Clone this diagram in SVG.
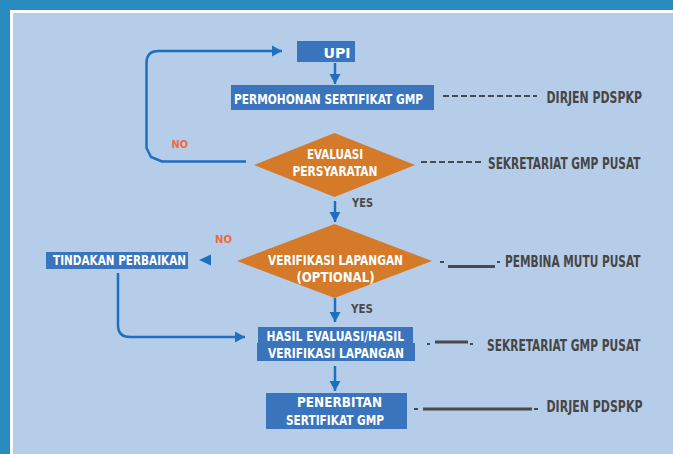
<svg xmlns="http://www.w3.org/2000/svg" width="673" height="454" viewBox="0 0 673 454">
<style>
.box{fill:#3A74BC}
.dia{fill:#D47A29}
.wt{fill:#FFFFFF;font-family:"DejaVu Sans Condensed","DejaVu Sans","Liberation Sans",sans-serif;font-weight:bold;font-size:13.5px}
.dk{fill:#464646;font-family:"DejaVu Sans Condensed","DejaVu Sans","Liberation Sans",sans-serif;font-weight:bold;font-size:15px}
.no{fill:#EE6A3A;font-family:"DejaVu Sans Condensed","DejaVu Sans","Liberation Sans",sans-serif;font-weight:bold;font-size:11px}
.yes{fill:#4A4A4A;font-family:"DejaVu Sans Condensed","DejaVu Sans","Liberation Sans",sans-serif;font-weight:bold;font-size:12px}
.con{fill:none;stroke:#1F6FBF;stroke-width:2.5}
.dash{fill:none;stroke:#4A4A4A;stroke-width:2;stroke-dasharray:6 3}
.thick{fill:none;stroke:#4A4A4A;stroke-width:3}
.dot{fill:none;stroke:#4A4A4A;stroke-width:2}
</style>
<defs>
<marker id="ah" markerUnits="userSpaceOnUse" markerWidth="12" markerHeight="12" viewBox="0 0 12 12" refX="10" refY="6" orient="auto">
<path d="M0,0.5 L10,6 L0,11.5 Z" fill="#1F6FBF"/>
</marker>
</defs>
<!-- frame -->
<rect x="0" y="0" width="673" height="454" fill="#2A8BC1"/>
<rect x="10" y="10" width="663" height="444" fill="#FFFFFF"/>
<rect x="13" y="13" width="660" height="441" fill="#B6CDE9"/>

<g id="connectors">
<path class="con" d="M335,63 V84" marker-end="url(#ah)"/>
<path class="con" d="M335,201 V222" marker-end="url(#ah)"/>
<path class="con" d="M335,298 V322" marker-end="url(#ah)"/>
<path class="con" d="M335,366 V391" marker-end="url(#ah)"/>
<path class="con" d="M246,161.5 H162 L151,157 L146.5,148 V63 Q146.5,51 158.5,51 H282" marker-end="url(#ah)"/>
<path d="M199,260 L211,254.5 L211,265.5 Z" fill="#1F6FBF"/>
<path class="con" d="M118,273 V325 Q118,337 130,337 H245" marker-end="url(#ah)"/>
<!-- responsibility lines -->
<path class="dash" d="M443,96 H537"/>
<path class="dash" d="M421,162 H483"/>
<path class="dot" d="M440,262 H444 M497,262 H500"/>
<path class="thick" d="M448,266.5 H495"/>
<path class="dot" d="M427,344 H430 M470,344 H473"/>
<path class="thick" d="M435,342 H468"/>
<path class="dot" d="M414,409 H418 M534,409 H538"/>
<path class="thick" d="M423,409 H532"/>
</g>

<g id="upi">
<rect class="box" x="297" y="41" width="58" height="21"/>
<text class="wt" x="337" y="58" text-anchor="middle" font-size="16" textLength="27" lengthAdjust="spacingAndGlyphs">UPI</text>
</g>

<g id="permohonan">
<rect class="box" x="231" y="85" width="203" height="25"/>
<text class="wt" x="234" y="104" textLength="189" lengthAdjust="spacingAndGlyphs">PERMOHONAN SERTIFIKAT GMP</text>
</g>

<g id="evaluasi">
<polygon class="dia" points="334.5,133 415,165 334.5,197 254,165"/>
<text class="wt" x="335" y="159" text-anchor="middle" textLength="56" lengthAdjust="spacingAndGlyphs">EVALUASI</text>
<text class="wt" x="335" y="176" text-anchor="middle" textLength="85" lengthAdjust="spacingAndGlyphs">PERSYARATAN</text>
</g>

<g id="verifikasi">
<polygon class="dia" points="334.5,224 432,261 334.5,298 237,261"/>
<text class="wt" x="335.5" y="265" text-anchor="middle" textLength="135" lengthAdjust="spacingAndGlyphs">VERIFIKASI LAPANGAN</text>
<text class="wt" x="335.5" y="282" text-anchor="middle" textLength="78" lengthAdjust="spacingAndGlyphs">(OPTIONAL)</text>
</g>

<g id="tindakan">
<rect class="box" x="46" y="252" width="142" height="17"/>
<text class="wt" x="53" y="265" textLength="133" lengthAdjust="spacingAndGlyphs">TINDAKAN PERBAIKAN</text>
</g>

<g id="hasil">
<rect class="box" x="258" y="327" width="155" height="17"/>
<rect class="box" x="257" y="343" width="158" height="18"/>
<text class="wt" x="266.5" y="340.5" textLength="137.5" lengthAdjust="spacingAndGlyphs">HASIL EVALUASI/HASIL</text>
<text class="wt" x="268" y="357.5" textLength="136" lengthAdjust="spacingAndGlyphs">VERIFIKASI LAPANGAN</text>
</g>

<g id="penerbitan">
<rect class="box" x="266" y="393" width="141" height="36"/>
<text class="wt" x="297" y="406.5" textLength="85" lengthAdjust="spacingAndGlyphs">PENERBITAN</text>
<text class="wt" x="286" y="425" textLength="98" lengthAdjust="spacingAndGlyphs">SERTIFIKAT GMP</text>
</g>

<g id="labels">
<text class="no" x="171.5" y="148" textLength="16.5" lengthAdjust="spacingAndGlyphs">NO</text>
<text class="no" x="215" y="243" textLength="17" lengthAdjust="spacingAndGlyphs">NO</text>
<text class="yes" x="352" y="207" textLength="21" lengthAdjust="spacingAndGlyphs">YES</text>
<text class="yes" x="351" y="313" textLength="22" lengthAdjust="spacingAndGlyphs">YES</text>
<text class="dk" transform="translate(546.5,103) scale(0.7,1)" x="0" y="0" textLength="136.4" lengthAdjust="spacingAndGlyphs">DIRJEN PDSPKP</text>
<text class="dk" transform="translate(488,169) scale(0.7,1)" x="0" y="0" textLength="217.9" lengthAdjust="spacingAndGlyphs">SEKRETARIAT GMP PUSAT</text>
<text class="dk" transform="translate(505,267) scale(0.7,1)" x="0" y="0" textLength="193.6" lengthAdjust="spacingAndGlyphs">PEMBINA MUTU PUSAT</text>
<text class="dk" transform="translate(487,351) scale(0.7,1)" x="0" y="0" textLength="219.3" lengthAdjust="spacingAndGlyphs">SEKRETARIAT GMP PUSAT</text>
<text class="dk" transform="translate(546.5,412) scale(0.7,1)" x="0" y="0" textLength="137.1" lengthAdjust="spacingAndGlyphs">DIRJEN PDSPKP</text>
</g>
</svg>
